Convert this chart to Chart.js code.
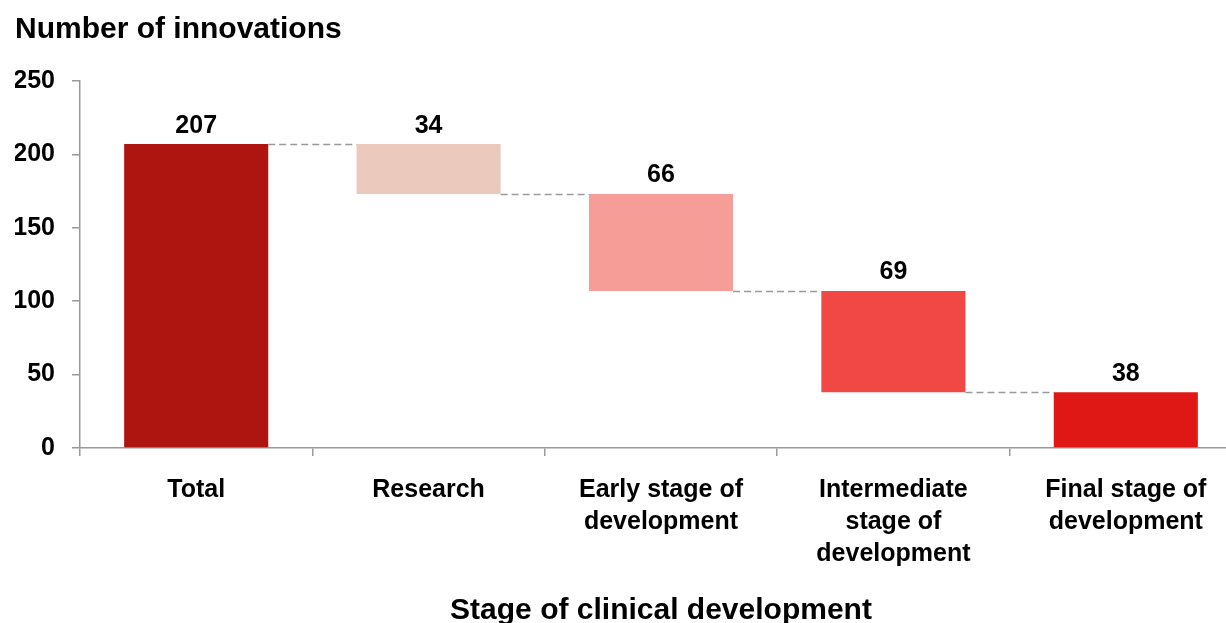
<!DOCTYPE html>
<html>
<head>
<meta charset="utf-8">
<script src="https://cdn.jsdelivr.net/npm/chart.js@4/dist/chart.umd.min.js"></script>
<style>
  html, body { margin: 0; padding: 0; background: #ffffff; }
  #wrap { width: 1226px; height: 623px; overflow: hidden; position: relative; }
  #c { position: absolute; left: 0; top: 0; }
</style>
</head>
<body>
<div id="wrap"><canvas id="c" width="1242" height="623"></canvas></div>
<script>
// ---- data ----
const categories = [
  'Total',
  'Research',
  ['Early stage of', 'development'],
  ['Intermediate', 'stage of', 'development'],
  ['Final stage of', 'development']
];
const stageCounts = [207, 34, 66, 69, 38];
const barKinds = ['total', 'drop', 'drop', 'drop', 'total'];
const barColors = ['#AE1410', '#EBCABD', '#F59D96', '#F24845', '#E01815'];
const yTickValues = [0, 50, 100, 150, 200, 250];

// build floating ranges for the waterfall from the counts
const ranges = [];
let running = 0;
stageCounts.forEach((v, i) => {
  if (barKinds[i] === 'total') {
    ranges.push([0, v]);
    running = v;
  } else {
    ranges.push([running - v, running]);
    running = running - v;
  }
});

const FONT = "'Liberation Sans', Arial, sans-serif";

const labelsPlugin = {
  id: 'waterfallExtras',
  afterDatasetsDraw(chart) {
    const ctx = chart.ctx;
    const meta = chart.getDatasetMeta(0);
    const yScale = chart.scales.y;
    ctx.save();
    // connectors
    ctx.strokeStyle = '#9a9a9a';
    ctx.lineWidth = 1.5;
    ctx.setLineDash([7, 4]);
    for (let i = 0; i < meta.data.length - 1; i++) {
      const a = meta.data[i], b = meta.data[i + 1];
      const level = Math.max(ranges[i + 1][0], ranges[i + 1][1]);
      const py = Math.round(yScale.getPixelForValue(level)) + 0.5;
      ctx.beginPath();
      ctx.moveTo(a.x + a.width / 2, py);
      ctx.lineTo(b.x - b.width / 2, py);
      ctx.stroke();
    }
    ctx.setLineDash([]);
    // value labels
    ctx.fillStyle = '#000';
    ctx.font = 'bold 25px ' + FONT;
    ctx.textAlign = 'center';
    ctx.textBaseline = 'bottom';
    meta.data.forEach((el, i) => {
      const top = Math.min(el.y, el.base);
      ctx.fillText(String(stageCounts[i]), el.x, top - 6);
    });
    ctx.restore();
  }
};

new Chart(document.getElementById('c'), {
  type: 'bar',
  data: {
    labels: categories,
    datasets: [{
      data: ranges,
      backgroundColor: barColors,
      borderWidth: 0,
      barPercentage: 0.62,
      categoryPercentage: 1.0
    }]
  },
  options: {
    responsive: false,
    animation: false,
    devicePixelRatio: 1,
    layout: { padding: { left: 15, right: 0, top: 0, bottom: 0 } },
    plugins: {
      legend: { display: false },
      tooltip: { enabled: false },
      title: {
        display: true,
        text: 'Number of innovations',
        align: 'start',
        color: '#000',
        font: { family: FONT, size: 30, weight: 'bold', lineHeight: 1.2 },
        padding: { top: 12, bottom: 33 }
      }
    },
    scales: {
      x: {
        border: { display: true, color: '#999', width: 1.5 },
        grid: { display: true, drawOnChartArea: false, drawTicks: true, tickLength: 8, color: '#999', lineWidth: 1.5, offset: true },
        ticks: {
          color: '#000',
          padding: 18,
          maxRotation: 0,
          autoSkip: false,
          font: { family: FONT, size: 25, weight: 'bold', lineHeight: 1.28 }
        },
        title: {
          display: true,
          text: 'Stage of clinical development',
          color: '#000',
          font: { family: FONT, size: 30, weight: 'bold', lineHeight: 0.8 },
          padding: { top: 11, bottom: 0 }
        }
      },
      y: {
        min: 0,
        max: 250,
        afterBuildTicks(scale) { scale.ticks = yTickValues.map(v => ({ value: v })); },
        afterFit(scale) { scale.width = 65; },
        border: { display: true, color: '#999', width: 1.5 },
        grid: { display: true, drawOnChartArea: false, drawTicks: true, tickLength: 8, color: '#999', lineWidth: 1.5 },
        ticks: {
          color: '#000',
          padding: 17,
          font: { family: FONT, size: 25, weight: 'bold' }
        }
      }
    }
  },
  plugins: [labelsPlugin]
});
</script>
</body>
</html>
